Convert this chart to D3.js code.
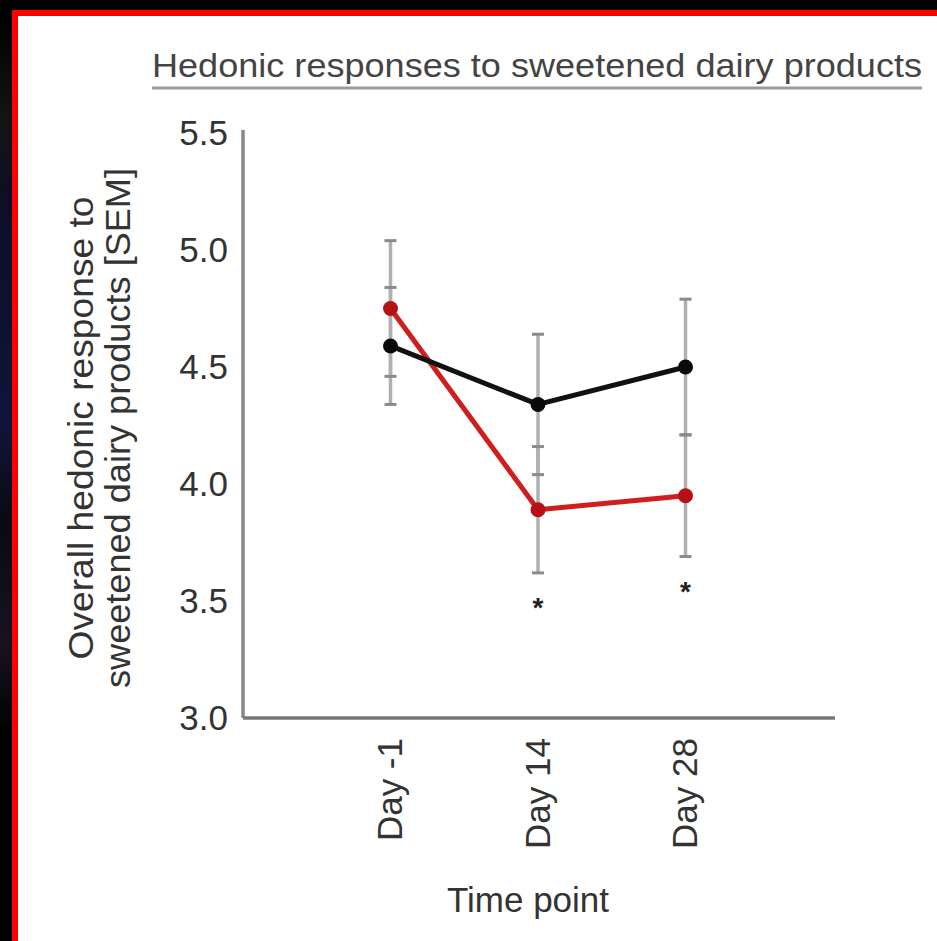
<!DOCTYPE html>
<html>
<head>
<meta charset="utf-8">
<script src="https://cdn.jsdelivr.net/npm/d3@7"></script>
<style>
  html, body { margin: 0; padding: 0; background: #fff; overflow: hidden; }
  svg { display: block; }
  text { font-family: "Liberation Sans", Arial, Helvetica, sans-serif; }
</style>
</head>
<body>
<svg id="chart" width="937" height="941"></svg>
<script>
// Time points on the x axis
const days = ["Day -1", "Day 14", "Day 28"];
// Black series: mean hedonic response and SEM
const blackMean = [4.59, 4.34, 4.50];
const blackSem  = [0.25, 0.30, 0.29];
// Red series: mean hedonic response and SEM
const redMean = [4.75, 3.89, 3.95];
const redSem  = [0.29, 0.27, 0.26];
// Significance markers under each time point
const significant = [false, true, true];
// Y axis ticks
const yTicks = [3.0, 3.5, 4.0, 4.5, 5.0, 5.5];

const svg = d3.select("#chart");
const W = 937, H = 941;

// Frame: dark backdrop strip at top and left, red border, white panel
const defs = svg.append("defs");
const grad = defs.append("linearGradient").attr("id", "backdrop")
  .attr("x1", 0).attr("y1", 0).attr("x2", 0).attr("y2", 1);
[[0, "#000"], [0.12, "#141414"], [0.2, "#0c0f26"], [0.45, "#10143a"], [0.55, "#0a0a12"],
 [0.68, "#181220"], [0.78, "#000"], [1, "#000"]]
  .forEach(([o, c]) => grad.append("stop").attr("offset", o).attr("stop-color", c));
svg.append("rect").attr("width", W).attr("height", H).attr("fill", "#fff");
svg.append("rect").attr("x", 0).attr("y", 0).attr("width", W).attr("height", 10).attr("fill", "#000");
svg.append("rect").attr("x", 0).attr("y", 10).attr("width", 12).attr("height", H - 10)
  .attr("fill", "url(#backdrop)");
svg.append("rect").attr("x", 12).attr("y", 10).attr("width", W - 12).attr("height", 6).attr("fill", "#ff0000");
svg.append("rect").attr("x", 12).attr("y", 10).attr("width", 6).attr("height", H - 10).attr("fill", "#ff0000");

// Scales
const x = d3.scaleLinear().domain([0, days.length + 1]).range([243, 833]);
const y = d3.scaleLinear().domain([3.0, 5.5]).range([718, 133]);

// Title with underline
svg.append("text")
  .attr("x", 152).attr("y", 77)
  .attr("font-size", 34).attr("fill", "#444")
  .attr("textLength", 770).attr("lengthAdjust", "spacingAndGlyphs")
  .text("Hedonic responses to sweetened dairy products");
svg.append("line")
  .attr("x1", 152).attr("x2", 922).attr("y1", 88).attr("y2", 88)
  .attr("stroke", "#9a9a9a").attr("stroke-width", 3);

// Y axis
const yAxis = svg.append("g").attr("transform", "translate(243,0)")
  .call(d3.axisLeft(y).tickValues(yTicks).tickFormat(d3.format(".1f")).tickSize(0).tickPadding(15));
yAxis.select(".domain").attr("stroke", "#888").attr("stroke-width", 3.5)
  .attr("d", `M0,${y(5.5) - 3}V${y(3.0)}`);
yAxis.selectAll(".tick text")
  .attr("font-size", 35).attr("fill", "#333").attr("font-family", "Liberation Sans, Arial, sans-serif");

// X axis
const xAxis = svg.append("g").attr("transform", `translate(0,${y(3.0)})`)
  .call(d3.axisBottom(x).tickValues(days.map((d, i) => i + 1))
    .tickFormat((d) => days[d - 1]).tickSize(0));
xAxis.select(".domain").attr("stroke", "#777").attr("stroke-width", 3.5)
  .attr("d", `M${x(0)},0H${x(days.length + 1) + 2}`);
xAxis.selectAll(".tick text")
  .attr("font-size", 35).attr("fill", "#333").attr("font-family", "Liberation Sans, Arial, sans-serif")
  .attr("text-anchor", "end")
  .attr("transform", "translate(0,20) rotate(-90)")
  .attr("x", 0).attr("y", 0).attr("dy", "0.32em");

// Axis titles
svg.append("text")
  .attr("x", 528).attr("y", 912).attr("text-anchor", "middle")
  .attr("font-size", 35).attr("fill", "#333")
  .text("Time point");
const yLabel = svg.append("g").attr("transform", "translate(0,428) rotate(-90)");
yLabel.append("text").attr("x", 0).attr("y", 93).attr("text-anchor", "middle")
  .attr("font-size", 35).attr("fill", "#333")
  .attr("textLength", 463).attr("lengthAdjust", "spacingAndGlyphs")
  .text("Overall hedonic response to");
yLabel.append("text").attr("x", 0).attr("y", 130).attr("text-anchor", "middle")
  .attr("font-size", 35).attr("fill", "#333")
  .attr("textLength", 520).attr("lengthAdjust", "spacingAndGlyphs")
  .text("sweetened dairy products [SEM]");

// Series records
const series = [
  { color: "#d01e1e", dot: "#b51218", mean: redMean, sem: redSem },
  { color: "#111111", dot: "#0a0a0a", mean: blackMean, sem: blackSem }
].map((s) => ({ ...s, pts: s.mean.map((m, i) => ({ i: i + 1, m, e: s.sem[i] })) }));

// Error bars (gray whiskers with caps)
const eb = svg.append("g");
series.forEach((s) => {
  s.pts.forEach((p) => {
    eb.append("line")
      .attr("x1", x(p.i)).attr("x2", x(p.i))
      .attr("y1", y(p.m - p.e)).attr("y2", y(p.m + p.e))
      .attr("stroke", "#b0b0b0").attr("stroke-width", 3.5);
  });
});
series.forEach((s) => {
  s.pts.forEach((p) => {
    [p.m - p.e, p.m + p.e].forEach((v) => {
      eb.append("line")
        .attr("x1", x(p.i) - 6).attr("x2", x(p.i) + 6)
        .attr("y1", y(v)).attr("y2", y(v))
        .attr("stroke", "#8a8a8a").attr("stroke-width", 3);
    });
  });
});

// Lines and markers
const line = d3.line().x((d) => x(d.i)).y((d) => y(d.m));
series.forEach((s) => {
  svg.append("path").datum(s.pts)
    .attr("d", line).attr("fill", "none")
    .attr("stroke", s.color).attr("stroke-width", 5)
    .attr("stroke-linejoin", "round");
  svg.append("g").selectAll("circle").data(s.pts).join("circle")
    .attr("cx", (d) => x(d.i)).attr("cy", (d) => y(d.m))
    .attr("r", 7.5).attr("fill", s.dot);
});

// Significance asterisks below the lowest whisker
significant.forEach((sig, k) => {
  if (!sig) return;
  const low = d3.min(series, (s) => s.mean[k] - s.sem[k]);
  svg.append("text")
    .attr("x", x(k + 1)).attr("y", y(low) + 44)
    .attr("text-anchor", "middle")
    .attr("font-size", 28).attr("font-weight", "bold").attr("fill", "#222")
    .text("*");
});
</script>
</body>
</html>
